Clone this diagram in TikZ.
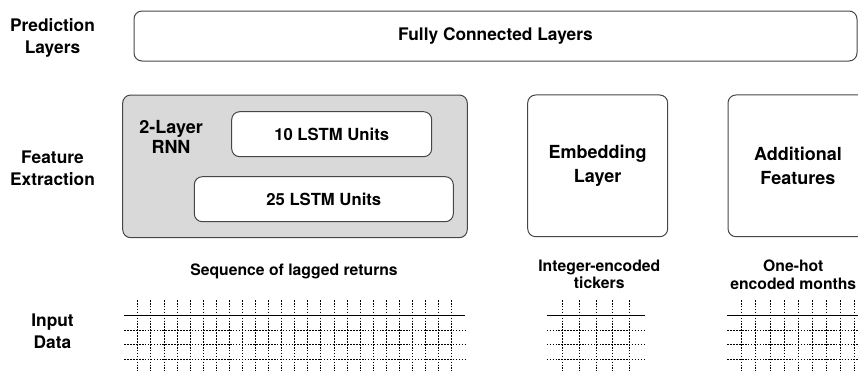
\documentclass[tikz,border=0pt]{standalone}
\usepackage{fontspec}
\setmainfont{TeX Gyre Heros}
\definecolor{edgegray}{RGB}{70,70,70}
\definecolor{rnngray}{RGB}{217,217,217}

\begin{document}
\begin{tikzpicture}[x=0.75pt,y=0.75pt,yscale=-1,xscale=1,
  box/.style={draw=edgegray, line width=0.75pt, rounded corners=6pt, align=center, inner sep=0pt},
  rowlbl/.style={font=\fontsize{13}{16.5}\selectfont\bfseries, align=center, inner sep=0.75pt},
  boxlbl/.style={font=\fontsize{13.5}{17.5}\selectfont\bfseries, align=center},
  unitlbl/.style={font=\fontsize{12.5}{15}\selectfont\bfseries},
  datalbl/.style={font=\fontsize{11.8}{13.2}\selectfont\bfseries, align=center, inner sep=0.75pt},
  solidrule/.style={line width=0.75pt},
  dotrule/.style={line width=0.5pt, dash pattern=on 1.2pt off 1pt}
]
\useasboundingbox (0,0) rectangle (858,371);
\clip (0,0) rectangle (858,371);

% Text Node
\node[rowlbl] (pred) at (52.5,38.3) {Prediction\\Layers};
% Text Node
\node[rowlbl] (feat) at (52.5,168) {Feature\\Extraction};
% Text Node
\node[rowlbl] (inp) at (52.5,331) {Input\\Data};

%Rounded Rect
\node[box, minimum width=542.25pt, minimum height=37.5pt, font=\fontsize{13}{16}\selectfont\bfseries] (fc) at (495.5,36) {Fully Connected Layers};

%Rounded Rect
\node[box, fill=rnngray, minimum width=258.45pt, minimum height=107pt] (rnn) at (295,166.35) {};
\node[box, fill=white, minimum width=150pt, minimum height=33.75pt, unitlbl] (lstmten) at (331.7,134.2) {10 LSTM Units};
\node[box, fill=white, minimum width=194.25pt, minimum height=33.75pt, unitlbl] (lstmtwentyfive) at (323.8,199.2) {25 LSTM Units};
% Text Node
\node[font=\fontsize{13.5}{15}\selectfont\bfseries, align=center, inner sep=0pt] (rnnlbl) at (171,137) {2-Layer\\RNN};

%Rounded Rect
\node[box, minimum width=105pt, minimum height=106.3pt, boxlbl] (emb) at (597.7,165.85) {Embedding\\Layer};
%Rounded Rect
\node[box, minimum width=105pt, minimum height=106.3pt, boxlbl] (addl) at (798,165.85) {Additional\\Features};

% Text Node
\node[datalbl] (seqlbl) at (294,271.7) {Sequence of lagged returns};
% Text Node
\node[datalbl] (tickerlbl) at (599.3,274.5) {Integer-encoded\\tickers};
% Text Node
\node[datalbl] (monthlbl) at (793.3,274.5) {One-hot\\encoded months};

%Grid: lagged returns
\foreach \i in {0,...,24}
  \draw[dotrule] ({137.7+13.08*\i},300) -- ({137.7+13.08*\i},375);
\draw[solidrule] (124.3,315.7) -- (465,315.7);
\foreach \y in {330,344.5,359}
  \draw[dotrule] (124.3,\y) -- (465,\y);

%Grid: tickers
\foreach \i in {0,...,4}
  \draw[dotrule] ({562.7+16.6*\i},300) -- ({562.7+16.6*\i},375);
\draw[solidrule] (546.7,315.7) -- (645,315.7);
\foreach \y in {330,344.5,359}
  \draw[dotrule] (546.7,\y) -- (645,\y);

%Grid: months
\foreach \i in {0,...,11}
  \draw[dotrule] ({741.7+14.08*\i},300) -- ({741.7+14.08*\i},375);
\draw[solidrule] (727.3,315.7) -- (910,315.7);
\foreach \y in {330,344.5,359}
  \draw[dotrule] (727.3,\y) -- (910,\y);

\end{tikzpicture}
\end{document}
